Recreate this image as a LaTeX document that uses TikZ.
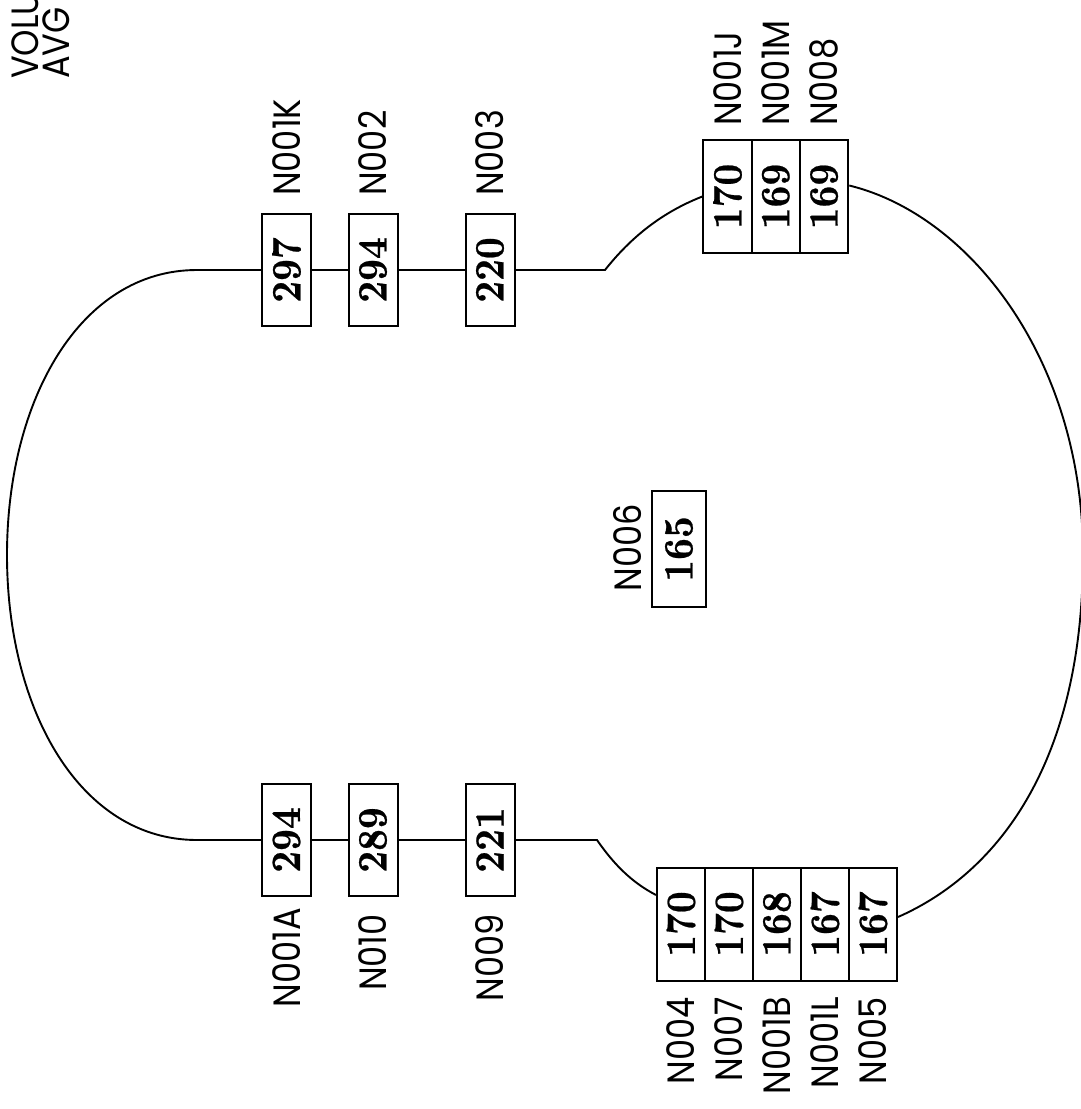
\documentclass[tikz,border=0pt]{standalone}
\usepackage{fontspec}
\newfontfamily\lblfont{Poppins}[Numbers=Monospaced]
\newfontfamily\numfont{lmroman10-bold.otf}[FakeBold=0.6]
\usetikzlibrary{calc}
\newcommand{\numtxt}[1]{\rotatebox{90}{\scalebox{1}[1.1]{\fontsize{38}{38}\numfont #1}}}
\newcommand{\lbltxt}[1]{\rotatebox{90}{\scalebox{0.885}[1]{\fontsize{38}{38}\lblfont #1}}}
\tikzset{
  valbox/.style={draw, line width=2pt, minimum width=49pt, minimum height=112pt, inner sep=0pt},
  grpbox/.style={draw, line width=2pt, minimum width=48.3pt, minimum height=113pt, inner sep=0pt},
  lbl/.style={inner sep=0pt},
  wire/.style={line width=1.9pt}
}
\begin{document}
\begin{tikzpicture}[x=1pt,y=-1pt]
\useasboundingbox (0,0) rectangle (1081,1109);
\clip (0,0) rectangle (1081,1109);
\fill[white] (0,0) rectangle (1081,1109);

% top row
\node[valbox] (b297) at (286.5,270) {\numtxt{297}};
\node[valbox] (b294t) at (373,270) {\numtxt{294}};
\node[valbox] (b220) at (490,270) {\numtxt{220}};
% bottom row
\node[valbox] (b294b) at (286.5,840) {\numtxt{294}};
\node[valbox] (b289) at (373,840) {\numtxt{289}};
\node[valbox] (b221) at (490,840) {\numtxt{221}};
% top right group
\node[grpbox] (gj) at (727.5,196.5) {\numtxt{170}};
\node[grpbox] (gm) at (775.8,196.5) {\numtxt{169}};
\node[grpbox] (g8) at (824.1,196.5) {\numtxt{169}};
% bottom group
\node[grpbox, minimum width=48pt] (o4) at (681,924) {\numtxt{170}};
\node[grpbox, minimum width=48pt] (o7) at (729,924) {\numtxt{170}};
\node[grpbox, minimum width=48pt] (o1b) at (777,924) {\numtxt{168}};
\node[grpbox, minimum width=48pt] (o1l) at (825,924) {\numtxt{167}};
\node[grpbox, minimum width=48pt] (o5) at (873,924) {\numtxt{167}};
% centre
\node[valbox, minimum width=54pt, minimum height=116pt] (b165) at (679,549) {\numtxt{165}};

% labels
\node[lbl, anchor=south] (lvol) at (25,79) {\lbltxt{VOLU}};
\node[lbl, anchor=south] (lavg) at (56,79) {\lbltxt{AVG}};
\node[lbl, anchor=south] (l1k) at (286.5,196) {\lbltxt{N001K}};
\node[lbl, anchor=south] (l2) at (373,196) {\lbltxt{N002}};
\node[lbl, anchor=south] (l3) at (490,196) {\lbltxt{N003}};
\node[lbl, anchor=south] (l1j) at (727.5,126) {\lbltxt{N001J}};
\node[lbl, anchor=south] (l1m) at (775.8,126) {\lbltxt{N001M}};
\node[lbl, anchor=south] (l8) at (824.1,126) {\lbltxt{N008}};
\node[lbl, anchor=north] (l1a) at (286.5,908) {\lbltxt{N001A}};
\node[lbl, anchor=north] (l10) at (373,914) {\lbltxt{N010}};
\node[lbl, anchor=north] (l9) at (490,914) {\lbltxt{N009}};
\node[lbl, anchor=north] (l4) at (681,997) {\lbltxt{N004}};
\node[lbl, anchor=north] (l7) at (729,997) {\lbltxt{N007}};
\node[lbl, anchor=north] (l1b) at (777,997) {\lbltxt{N001B}};
\node[lbl, anchor=north] (l1l) at (825,997) {\lbltxt{N001L}};
\node[lbl, anchor=north] (l5) at (873,997) {\lbltxt{N005}};
\node[lbl] (l6) at (628,548) {\lbltxt{N006}};

% connectors
\draw[wire] (b297.east) -- (b294t.west);
\draw[wire] (b294t.east) -- (b220.west);
\draw[wire] (b294b.east) -- (b289.west);
\draw[wire] (b289.east) -- (b221.west);
\draw[wire] (b297.west) -- (197,270) .. controls (80,270) and (7,400) .. (7,555) .. controls (7,710) and (80,840) .. (197,840) -- (b294b.west);
\draw[wire] (b220.east) -- (605,270) .. controls (635,232) and (668,210) .. (gj.west);
\draw[wire] (b221.east) -- (597,840) .. controls (615,866) and (633,883) .. ([yshift=29pt]o4.west);
\draw[wire] ([yshift=11pt]g8.east) .. controls (970,215) and (1083,360) .. (1083,555) .. controls (1083,760) and (1000,872) .. ([yshift=7pt]o5.east);
\end{tikzpicture}
\end{document}
